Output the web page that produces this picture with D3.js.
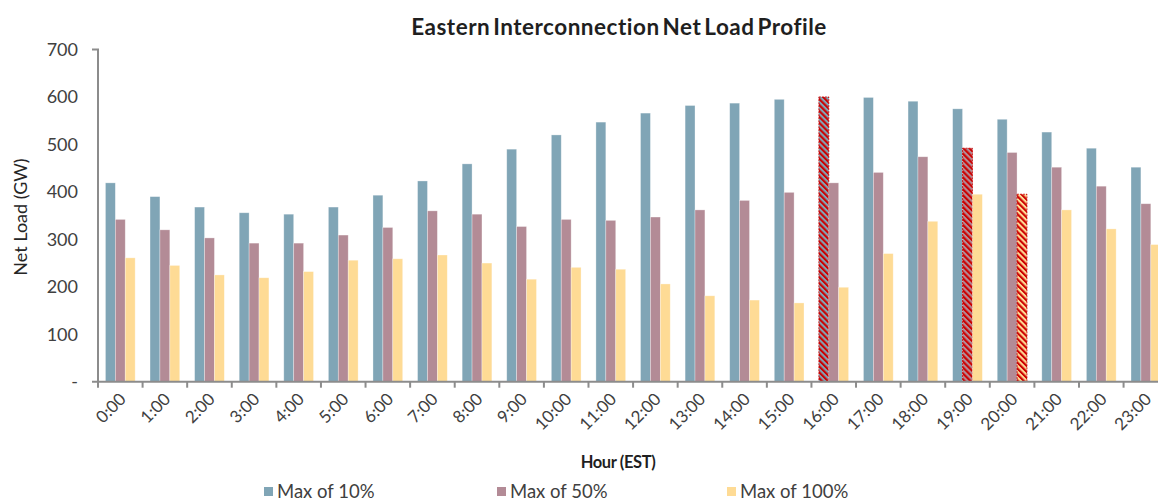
<!DOCTYPE html>
<html>
<head>
<meta charset="utf-8">
<script src="https://cdn.jsdelivr.net/npm/d3@7"></script>
<style>
	html, body { margin: 0; padding: 0; background: #fff; }
	svg { display: block; font-family: Lato, 'Open Sans', sans-serif; }
</style>
</head>
<body>
<script>
const hours = d3.range(24).map((h) => h + ':00');
const seriesNames = [ 'Max of 10%', 'Max of 50%', 'Max of 100%' ];
const max10 = [ 419, 390, 368, 356, 353, 368, 393, 423, 459, 490, 520, 547, 566, 582, 587, 595, 600, 599, 591, 575, 553, 526, 492, 452 ];
const max50 = [ 342, 320, 303, 292, 292, 309, 325, 360, 353, 327, 342, 340, 347, 362, 382, 399, 419, 441, 474, 492, 483, 452, 412, 375 ];
const max100 = [ 261, 245, 225, 219, 232, 256, 259, 267, 250, 216, 241, 237, 206, 181, 172, 166, 199, 270, 338, 395, 395, 362, 322, 289 ];
// peak of each series gets the red hatch
const highlighted = [ { hour: '16:00', series: 0 }, { hour: '19:00', series: 1 }, { hour: '20:00', series: 2 } ];
const yTicks = [ 0, 100, 200, 300, 400, 500, 600, 700 ];

const colors = [ '#80a5b6', '#b38b96', '#fedb95' ];
const allSeries = [ max10, max50, max100 ];

const width = 1158;
const height = 501;
const plotLeft = 98;
const bandW = 44.59;
const plotBottom = 381.7;
const plotTop = 49.5;

const svg = d3.select('body').append('svg').attr('width', width).attr('height', height);

// hatch patterns
const defs = svg.append('defs');
colors.forEach((c, i) => {
	const p = defs
		.append('pattern')
		.attr('id', 'hatch' + i)
		.attr('patternUnits', 'userSpaceOnUse')
		.attr('width', 4.2)
		.attr('height', 4.2)
		.attr('patternTransform', 'rotate(-45)');
	p.append('rect').attr('width', 4.2).attr('height', 4.2).attr('fill', c);
	p.append('rect').attr('width', 2.1).attr('height', 4.2).attr('fill', '#cc0000');
});

const x = d3.scaleBand().domain(hours).range([ plotLeft, plotLeft + bandW * 24 ]);
const xSub = d3.scaleBand().domain(d3.range(3)).range([ 0, x.bandwidth() ]).paddingOuter(0.75);
const y = d3.scaleLinear().domain([ 0, 700 ]).range([ plotBottom, plotTop ]);

const gBars = svg.append('g');
hours.forEach((h, hi) => {
	allSeries.forEach((vals, si) => {
		const hl = highlighted.find((d) => d.hour === h && d.series === si);
		gBars
			.append('rect')
			.attr('x', x(h) + xSub(si))
			.attr('y', y(vals[hi]))
			.attr('width', xSub.bandwidth())
			.attr('height', y(0) - y(vals[hi]))
			.attr('fill', hl ? 'url(#hatch' + si + ')' : colors[si])
			.attr('stroke', hl ? '#cc0000' : 'rgba(255,255,255,0.45)')
			.attr('stroke-width', hl ? 0.8 : 0.7)
			.attr('stroke-dasharray', hl ? '2,1' : null);
	});
});

// y axis
const yAxis = svg
	.append('g')
	.attr('transform', `translate(${plotLeft},0)`)
	.call(d3.axisLeft(y).tickValues(yTicks).tickSize(0).tickPadding(20).tickFormat((d) => (d === 0 ? '-' : d)));
yAxis.select('.domain').attr('stroke', '#8c8c8c').attr('stroke-width', 2).attr('d', `M-6,${plotTop}H0V${plotBottom}`);
yAxis.selectAll('text').attr('font-size', 18).attr('fill', '#404040').attr('font-family', 'Lato');

// x axis
const xAxis = svg
	.append('g')
	.attr('transform', `translate(0,${plotBottom})`)
	.call(d3.axisBottom(x).tickSize(0).tickFormat(''));
xAxis.select('.domain').attr('stroke', '#8c8c8c').attr('stroke-width', 2).attr('d', `M${plotLeft - 6},0H${plotLeft + bandW * 24}`);
xAxis
	.selectAll('.tickmark')
	.data(d3.range(25))
	.join('line')
	.attr('x1', (i) => plotLeft + i * bandW)
	.attr('x2', (i) => plotLeft + i * bandW)
	.attr('y1', 0)
	.attr('y2', 6)
	.attr('stroke', '#8c8c8c')
	.attr('stroke-width', 2);

svg
	.append('g')
	.selectAll('text')
	.data(hours)
	.join('text')
	.attr('transform', (d) => `translate(${x(d) + x.bandwidth() / 2 + 2},${plotBottom + 14}) rotate(-45)`)
	.attr('text-anchor', 'end')
	.attr('dominant-baseline', 'central')
	.attr('font-size', 17)
	.attr('fill', '#404040')
	.text((d) => d);

// titles
svg
	.append('text')
	.attr('x', 619)
	.attr('y', 35)
	.attr('text-anchor', 'middle')
	.attr('font-size', 22.5)
	.attr('font-weight', 'bold')
	.attr('letter-spacing', 0.5)
	.attr('word-spacing', -3)
	.attr('fill', '#1f1f1f')
	.text('Eastern Interconnection Net Load Profile');

svg
	.append('text')
	.attr('x', 618)
	.attr('y', 468)
	.attr('text-anchor', 'middle')
	.attr('font-size', 16.5)
	.attr('font-weight', 'bold')
	.attr('letter-spacing', -0.4)
	.attr('fill', '#1f1f1f')
	.text('Hour (EST)');

svg
	.append('text')
	.attr('transform', `translate(27,217) rotate(-90)`)
	.attr('text-anchor', 'middle')
	.attr('font-size', 18)
	.attr('fill', '#262626')
	.text('Net Load (GW)');

// legend
const legendX = [ 264, 497, 727 ];
const gLegend = svg.append('g');
seriesNames.forEach((name, i) => {
	gLegend.append('rect').attr('x', legendX[i]).attr('y', 487).attr('width', 9).attr('height', 9).attr('fill', colors[i]);
	gLegend
		.append('text')
		.attr('x', legendX[i] + 13)
		.attr('y', 498)
		.attr('font-size', 18.5)
		.attr('fill', '#404040')
		.text(name);
});
</script>
</body>
</html>
